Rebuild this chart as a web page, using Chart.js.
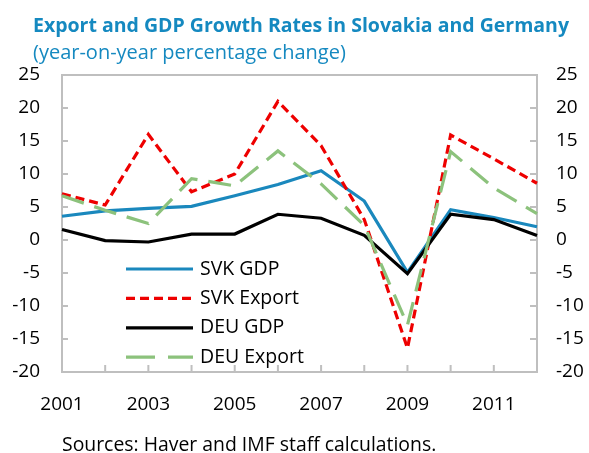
<!DOCTYPE html>
<html>
<head>
<meta charset="utf-8">
<script src="https://cdn.jsdelivr.net/npm/chart.js@4.4.0/dist/chart.umd.min.js"></script>
<style>
  html, body { margin: 0; padding: 0; background: #fff; }
  #wrap { position: relative; width: 589px; height: 453px; }
  #wrap canvas { position: absolute; left: 0; top: 0; }
  .head { position: absolute; left: 33px; color: #1589c0; font-family: 'Open Sans', sans-serif; white-space: nowrap; }
  #title { top: 13px; font-size: 19.5px; line-height: 24px; font-weight: bold; }
  #subtitle { top: 40px; font-size: 20px; line-height: 24px; }
</style>
</head>
<body>
<div id="wrap">
  <canvas id="chart" width="589" height="453"></canvas>
  <div class="head" id="title">Export and GDP Growth Rates in Slovakia and Germany</div>
  <div class="head" id="subtitle">(year-on-year percentage change)</div>
</div>
<script>
// data
const years = ['2001', '2002', '2003', '2004', '2005', '2006', '2007', '2008', '2009', '2010', '2011', '2012'];
const svkGdp = [3.6, 4.4, 4.8, 5.1, 6.7, 8.4, 10.5, 5.9, -4.9, 4.6, 3.4, 2.0];
const svkExport = [7.0, 5.3, 16.0, 7.3, 10.0, 21.0, 14.3, 3.1, -16.4, 15.9, 12.3, 8.6];
const deuGdp = [1.6, -0.1, -0.3, 0.9, 0.9, 3.9, 3.3, 0.7, -5.1, 3.9, 3.1, 0.7];
const deuExport = [6.7, 4.5, 2.5, 9.3, 8.2, 13.5, 8.5, 2.2, -12.9, 13.4, 7.9, 4.0];
const yTicks = { min: -20, max: 25, step: 5 };

const FONT = "'Open Sans', sans-serif";
const FRAME = '#bfbfbf';

// grey box around the plot + short inward tick marks (Excel look)
const frameTicks = {
  id: 'frameTicks',
  beforeDatasetsDraw(chart) {
    const { ctx, chartArea: a, scales } = chart;
    ctx.save();
    ctx.strokeStyle = FRAME;
    ctx.lineWidth = 2;
    ctx.strokeRect(a.left, a.top, a.right - a.left, a.bottom - a.top);
    ctx.beginPath();
    scales.x.ticks.forEach((t, i) => {
      const x = scales.x.getPixelForTick(i);
      ctx.moveTo(x, a.bottom);
      ctx.lineTo(x, a.bottom - 7);
    });
    scales.y.ticks.forEach((t, i) => {
      const y = scales.y.getPixelForTick(i);
      ctx.moveTo(a.left, y);
      ctx.lineTo(a.left + 6, y);
    });
    scales.y2.ticks.forEach((t, i) => {
      const y = scales.y2.getPixelForTick(i);
      ctx.moveTo(a.right, y);
      ctx.lineTo(a.right - 7, y);
    });
    ctx.stroke();
    ctx.restore();
  }
};

// legend sits inside the plot, one entry per row
const insideLegend = {
  id: 'insideLegend',
  afterDatasetsDraw(chart, args, opts) {
    const { ctx } = chart;
    ctx.save();
    ctx.font = `${opts.size}px ${FONT}`;
    ctx.textBaseline = 'middle';
    ctx.fillStyle = '#000';
    chart.data.datasets.forEach((ds, i) => {
      const y = opts.y + i * opts.rowGap;
      ctx.strokeStyle = ds.borderColor;
      ctx.lineWidth = ds.borderWidth;
      ctx.setLineDash(ds.legendDash || ds.borderDash || []);
      ctx.beginPath();
      ctx.moveTo(opts.x, y);
      ctx.lineTo(opts.x + opts.lineLen, y);
      ctx.stroke();
      ctx.fillText(ds.label, opts.x + opts.lineLen + 7, y);
    });
    ctx.restore();
  }
};

const tickFont = { family: FONT, size: 19, lineHeight: 1.2 };
const noGrid = { display: false, drawTicks: false };

new Chart(document.getElementById('chart'), {
  type: 'line',
  data: {
    labels: years,
    datasets: [
      { label: 'SVK GDP', data: svkGdp, borderColor: '#1a88bd', borderWidth: 3.2, order: 4 },
      { label: 'SVK Export', data: svkExport, borderColor: '#ee0000', borderWidth: 3.2, borderDash: [9, 5], order: 3 },
      { label: 'DEU GDP', data: deuGdp, borderColor: '#000000', borderWidth: 3.2, order: 2 },
      { label: 'DEU Export', data: deuExport, borderColor: '#8cc27c', borderWidth: 3.2, borderDash: [23, 11], legendDash: [29, 13], order: 1 }
    ]
  },
  options: {
    responsive: false,
    animation: false,
    devicePixelRatio: 1,
    elements: { point: { radius: 0 }, line: { tension: 0, borderJoinStyle: 'miter' } },
    layout: { padding: { left: 0, right: 0, top: 75, bottom: 0 } },
    plugins: {
      legend: { display: false },
      tooltip: { enabled: false },
      insideLegend: { x: 126, y: 269, rowGap: 29.4, lineLen: 67, size: 19.5 }
    },
    scales: {
      x: {
        offset: false,
        grid: noGrid,
        border: { display: false },
        ticks: {
          autoSkip: false,
          maxRotation: 0,
          padding: 21.5,
          color: '#000',
          font: tickFont,
          callback: (v, i) => (i % 2 === 0 ? years[i] : '')
        },
        title: {
          display: true,
          text: 'Sources: Haver and IMF staff calculations.',
          align: 'start',
          color: '#000',
          font: { family: FONT, size: 19.4, lineHeight: 0.8 },
          padding: { top: 0, bottom: 0 }
        },
        afterFit: s => { s.height = 81; }
      },
      y: {
        position: 'left',
        min: yTicks.min,
        max: yTicks.max,
        grid: noGrid,
        border: { display: false },
        ticks: { stepSize: yTicks.step, padding: 22, color: '#000', font: tickFont },
        afterFit: s => { s.width = 62; }
      },
      y2: {
        position: 'right',
        min: yTicks.min,
        max: yTicks.max,
        grid: noGrid,
        border: { display: false },
        ticks: { stepSize: yTicks.step, padding: 19, color: '#000', font: tickFont },
        afterFit: s => { s.width = 52; }
      }
    }
  },
  plugins: [frameTicks, insideLegend]
});
</script>
</body>
</html>
